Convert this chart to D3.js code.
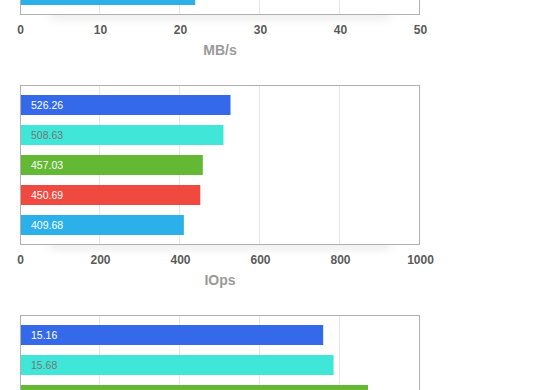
<!DOCTYPE html>
<html><head><meta charset="utf-8">
<script src="https://cdn.jsdelivr.net/npm/d3@7"></script>
<style>
html,body{margin:0;padding:0;background:#fff;overflow:hidden;}
svg{display:block;font-family:"Liberation Sans",Arial,Helvetica,sans-serif;}
</style></head>
<body>
<svg id="c" width="560" height="390"></svg>
<script>
// ---- data ----
const seriesColors = ["#3469ea", "#40e6d8", "#63b933", "#f04a40", "#2bb0ea"];
const labelColors  = ["#ffffff", "#777777", "#ffffff", "#ffffff", "#ffffff"];
const seriesIndex = [0, 1, 2, 3, 4];

const mbpsValues = [null, null, null, null, 21.9];      // only last bar visible
const mbpsTicks  = [0, 10, 20, 30, 40, 50];

const iopsValues = [526.26, 508.63, 457.03, 450.69, 409.68];
const iopsTicks  = [0, 200, 400, 600, 800, 1000];

const latValues  = [15.16, 15.68, 17.4, null, null];     // bottom chart, partly visible
const latTicks   = [0, 4, 8, 12, 16, 20];

const axisTitles = ["MB/s", "IOps", ""];

const charts = [
  {values: mbpsValues, ticks: mbpsTicks, title: axisTitles[0], top: -145},
  {values: iopsValues, ticks: iopsTicks, title: axisTitles[1], top: 85},
  {values: latValues,  ticks: latTicks,  title: axisTitles[2], top: 315}
];

const W = 560, H = 390;
const svg = d3.select("#c");
const defs = svg.append("defs");
const f = defs.append("filter").attr("id","blur").attr("x","-20%").attr("y","-200%").attr("width","140%").attr("height","500%");
f.append("feGaussianBlur").attr("stdDeviation", "6 4");

const left = 20, right = 420, frameH = 159;

charts.forEach(ch => {
  const g = svg.append("g").attr("transform", `translate(0,${ch.top})`);
  const x = d3.scaleLinear().domain([ch.ticks[0], ch.ticks[ch.ticks.length-1]]).range([left, right]);
  const y = d3.scaleBand().domain(seriesIndex).range([5, 155]).paddingInner(1/3).paddingOuter(1/6);

  // soft shadow under frame
  g.append("rect").attr("x", left + 30).attr("y", frameH - 4).attr("width", right - left - 60).attr("height", 10)
    .attr("fill", "#000").attr("opacity", 0.07).attr("filter", "url(#blur)");

  // background
  g.append("rect").attr("x", left + 0.5).attr("y", 0.5).attr("width", right - left - 1).attr("height", frameH)
    .attr("fill", "#fff");

  // gridlines
  g.selectAll("line.grid").data(ch.ticks.slice(1, -1)).enter().append("line")
    .attr("x1", d => Math.round(x(d)) - 0.5).attr("x2", d => Math.round(x(d)) - 0.5)
    .attr("y1", 0).attr("y2", frameH)
    .attr("stroke", "#e6e6e6").attr("stroke-width", 1);

  const data = seriesIndex.map(i => ({i, v: ch.values[i]})).filter(d => d.v != null);

  g.selectAll("rect.bar").data(data).enter().append("rect")
    .attr("x", x(0) + 1).attr("y", d => y(d.i))
    .attr("width", d => x(d.v) - x(0) - 1).attr("height", y.bandwidth())
    .attr("fill", d => seriesColors[d.i]);

  // value labels, only where they fall inside the visible page
  const labData = data.filter(d => {
    const yy = ch.top + y(d.i) + y.bandwidth()/2;
    return yy - 6 > 0 && yy + 6 < H;
  });
  g.selectAll("text.lab").data(labData).enter().append("text")
    .attr("x", 31).attr("y", d => y(d.i) + y.bandwidth()/2 + 3.5)
    .attr("font-size", 10.5).attr("fill", d => labelColors[d.i])
    .text(d => d3.format(".2f")(d.v));

  // frame
  g.append("rect").attr("x", left + 0.5).attr("y", 0.5).attr("width", right - left - 1).attr("height", frameH)
    .attr("fill", "none").attr("stroke", "#b0b0b0").attr("stroke-width", 1);

  // axis
  if (ch.top + frameH + 20 < H) {
    const axis = d3.axisBottom(x).tickValues(ch.ticks).tickSize(0).tickPadding(0).tickFormat(d3.format("d"));
    const ag = g.append("g").attr("transform", `translate(0,${frameH + 20})`).call(axis);
    ag.select(".domain").remove();
    ag.selectAll("text").attr("dy", 0).attr("font-size", 12).attr("font-weight", "bold")
      .attr("fill", "#5a5a5a").attr("font-family", "Liberation Sans, Arial, sans-serif");
  }

  if (ch.title) {
    g.append("text").attr("x", (left + right)/2).attr("y", frameH + 41)
      .attr("text-anchor", "middle").attr("font-size", 14).attr("font-weight", "bold")
      .attr("fill", "#9a9a9a").text(ch.title);
  }
});
</script>
</body></html>
